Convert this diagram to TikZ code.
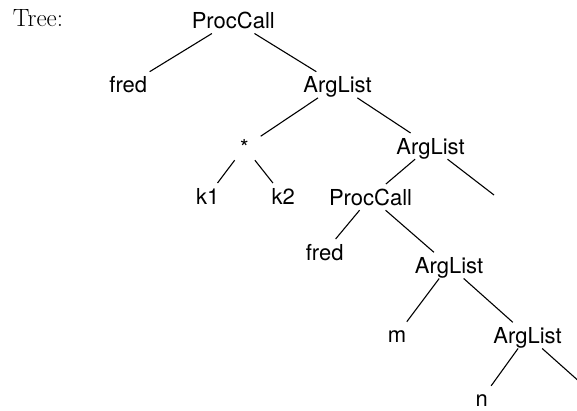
\documentclass[tikz,border=0pt]{standalone}
\usepackage{fontspec}
\newfontfamily\hv{TeX Gyre Heros}
\begin{document}
\begin{tikzpicture}[x=1pt,y=-1pt,
  tn/.style={font=\hv\fontsize{22}{26}\selectfont, anchor=base, text height=15.8pt, text depth=0pt, inner ysep=5pt, inner xsep=4pt},
  edge/.style={line width=1.1pt}]
\useasboundingbox (0,0) rectangle (577,410);
\clip (0,0) rectangle (577,410);
\node[anchor=base west, inner sep=0pt, font=\fontsize{25}{29}\selectfont] (lbl) at (12.7,26.7) {Tree:};
\node[tn] (pc1) at (233.3,28.3) {ProcCall};
\node[tn] (fred1) at (128.3,92.7) {fred};
\node[tn] (al1) at (337.5,92.7) {ArgList};
\node[tn, minimum width=32pt] (star) at (244.5,155) {*};
\node[tn] (k1) at (207.7,204) {k1};
\node[tn] (k2) at (283.3,204) {k2};
\node[tn] (al2) at (430.5,154) {ArgList};
\coordinate (e1) at (494,195);
\node[tn] (pc2) at (370.5,205) {ProcCall};
\node[tn] (fred2) at (324.7,260) {fred};
\node[tn] (al3) at (449,273.3) {ArgList};
\node[tn] (m) at (397,342.7) {m};
\node[tn] (al4) at (527.5,343.3) {ArgList};
\node[tn] (n) at (481.7,406.8) {n};
\coordinate (e2) at (600,400);
\draw[edge] (pc1) -- (fred1);
\draw[edge] (pc1) -- (al1);
\draw[edge] (al1) -- (star);
\draw[edge] (al1) -- (al2);
\draw[edge] (star) -- (k1);
\draw[edge] (star) -- (k2);
\draw[edge] (al2) -- (pc2);
\draw[edge] (al2) -- (e1);
\draw[edge] (pc2) -- (fred2);
\draw[edge] (pc2) -- (al3);
\draw[edge] (al3) -- (m);
\draw[edge] (al3) -- (al4);
\draw[edge] (al4) -- (n);
\draw[edge] (al4) -- (e2);
\end{tikzpicture}
\end{document}
